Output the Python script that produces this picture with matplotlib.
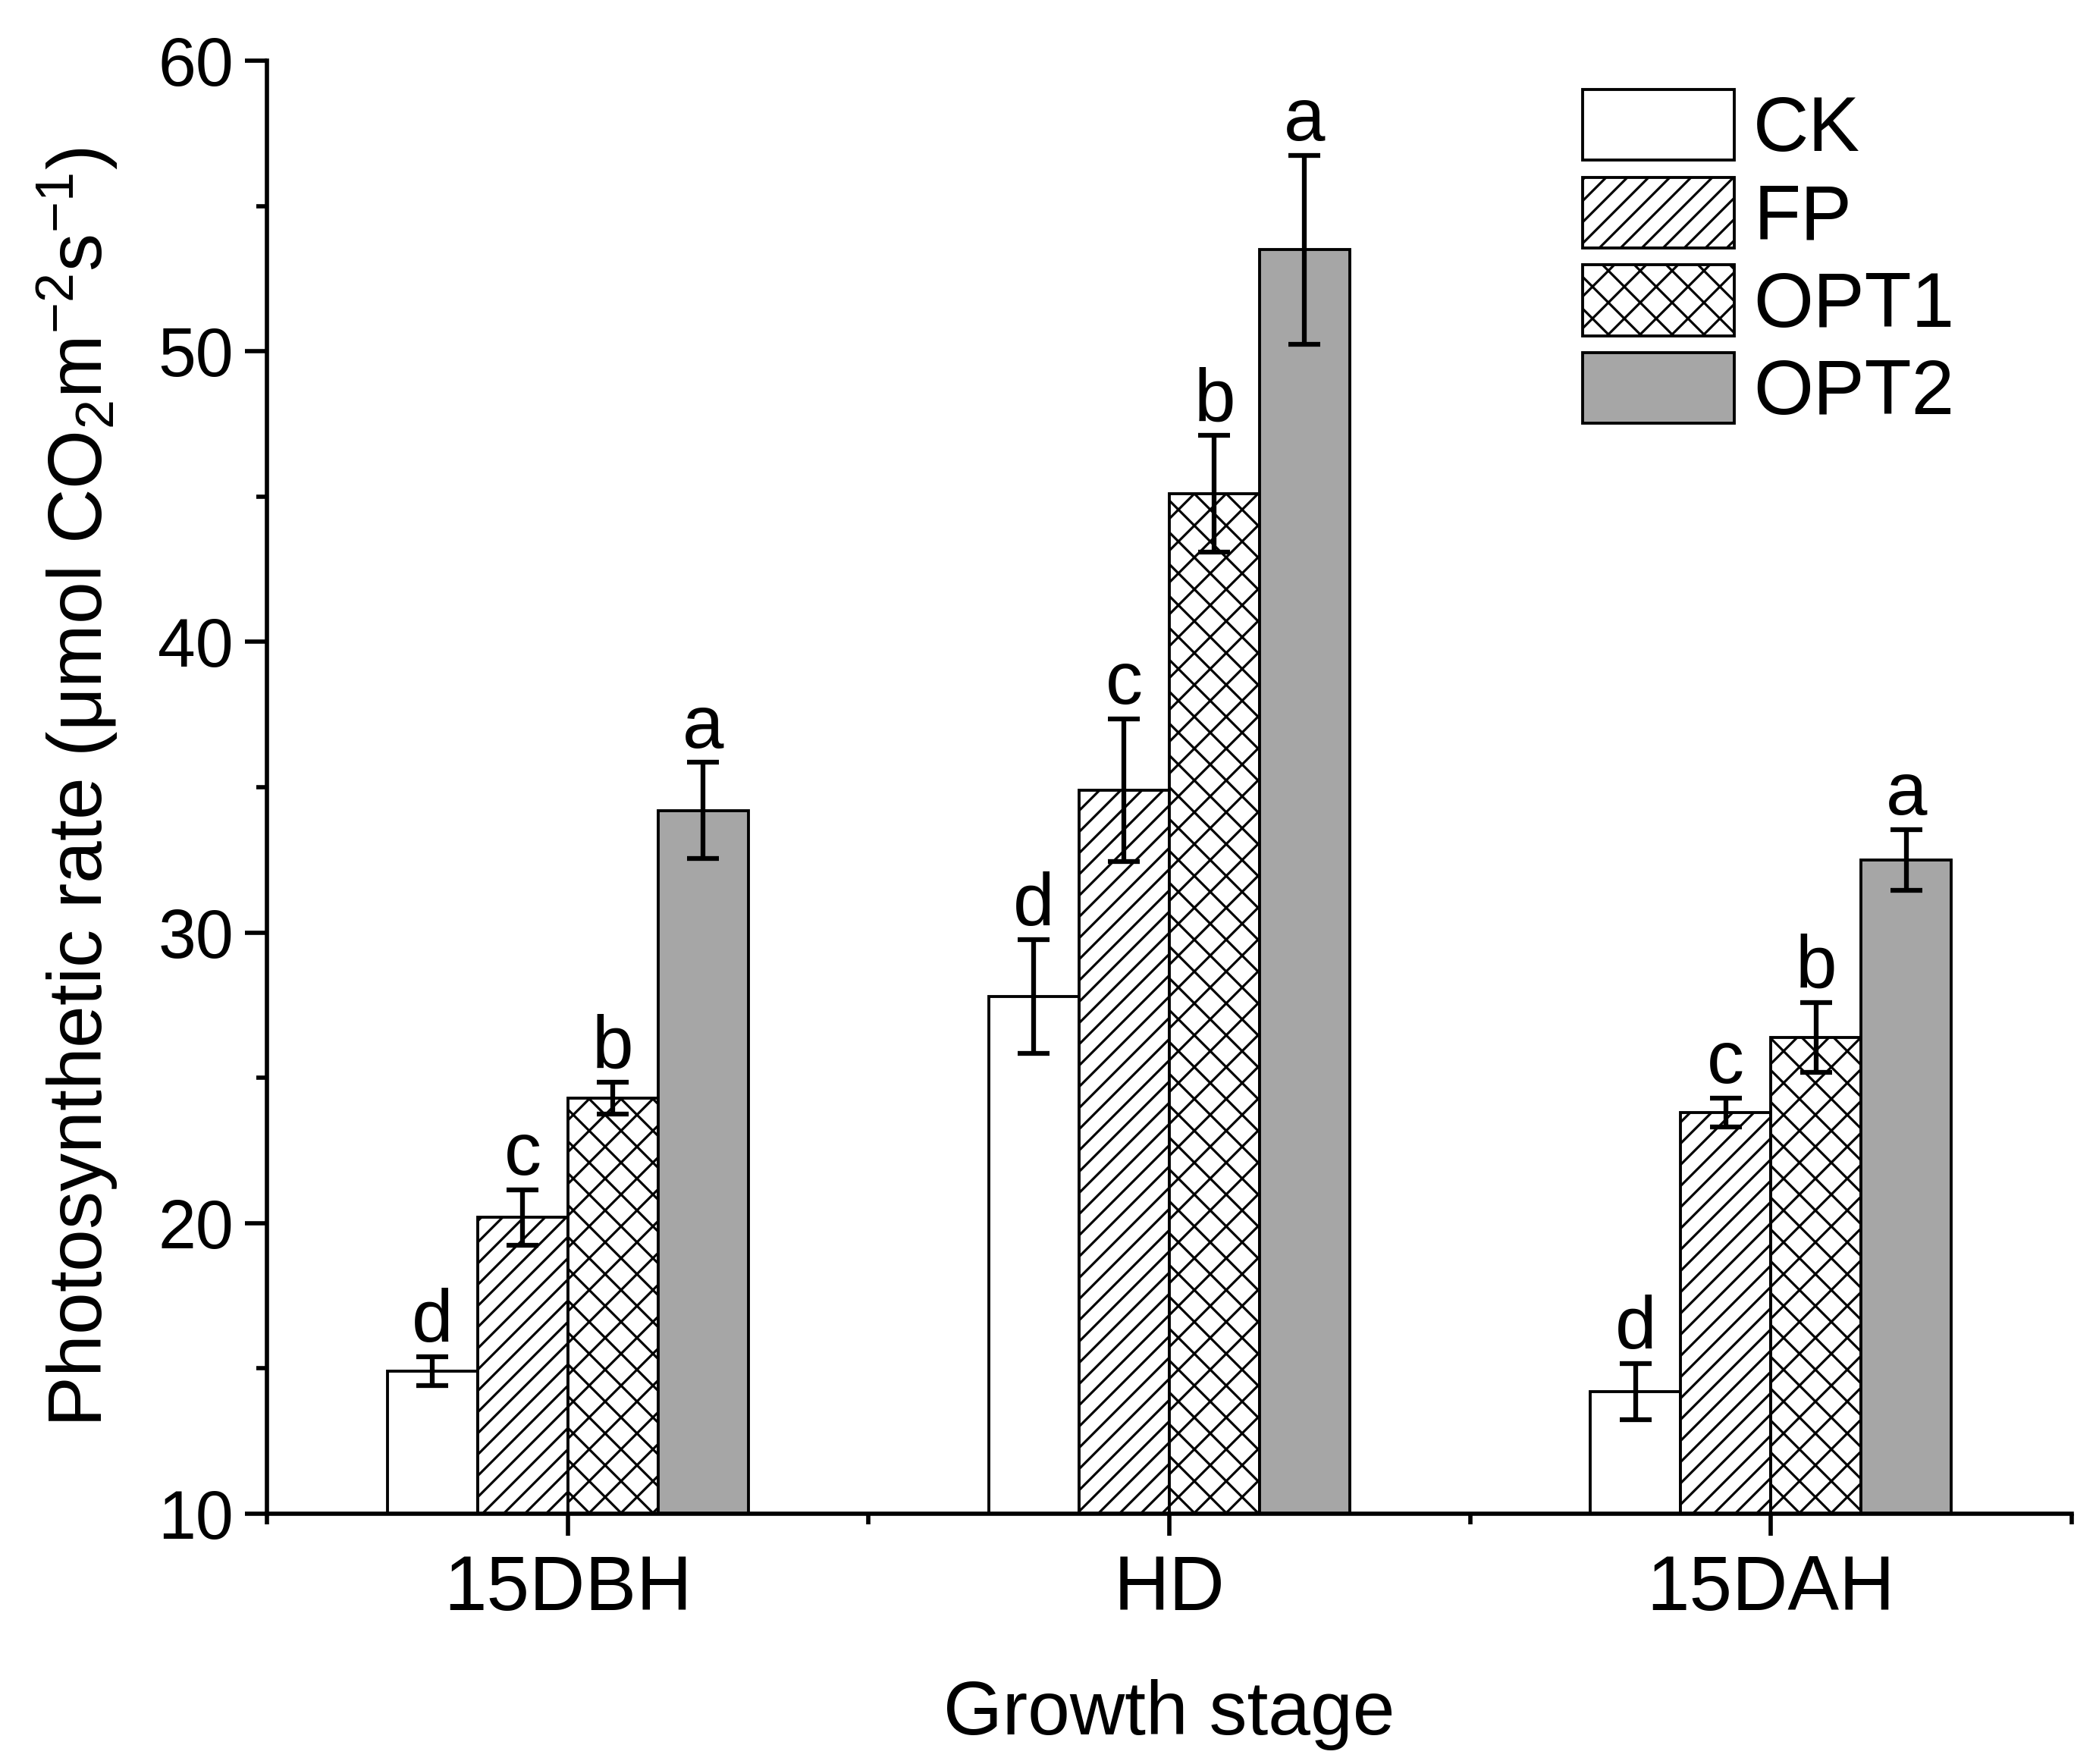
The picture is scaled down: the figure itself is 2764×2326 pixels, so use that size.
import numpy as np
import matplotlib
matplotlib.use('Agg')
import matplotlib.pyplot as plt
from matplotlib.ticker import MultipleLocator, FixedLocator

plt.rcParams['font.family'] = ['Liberation Sans', 'DejaVu Sans']
plt.rcParams['mathtext.fontset'] = 'custom'
plt.rcParams['mathtext.rm'] = 'Liberation Sans'
plt.rcParams['mathtext.it'] = 'Liberation Sans:italic'
plt.rcParams['hatch.linewidth'] = 0.45
plt.rcParams['hatch.color'] = 'black'

# data
stages = ['15DBH', 'HD', '15DAH']
treatments = ['CK', 'FP', 'OPT1', 'OPT2']
ck = [14.9, 27.8, 14.2]
fp = [20.2, 34.9, 23.8]
opt1 = [24.3, 45.1, 26.4]
opt2 = [34.2, 53.5, 32.5]
ck_err = [0.5, 1.95, 0.97]
fp_err = [0.95, 2.45, 0.5]
opt1_err = [0.55, 2.0, 1.2]
opt2_err = [1.65, 3.25, 1.05]
ck_lab = ['d', 'd', 'd']
fp_lab = ['c', 'c', 'c']
opt1_lab = ['b', 'b', 'b']
opt2_lab = ['a', 'a', 'a']

means = [ck, fp, opt1, opt2]
errs = [ck_err, fp_err, opt1_err, opt2_err]
labs = [ck_lab, fp_lab, opt1_lab, opt2_lab]
faces = ['white', 'white', 'white', '#a6a6a6']
# hatch spacing at this dpi: 168/n px, so 6 -> 28 px, 4 -> 42 px
hatches = ['', '//////', 'xxxx', '']

dpi = 504
fig = plt.figure(figsize=(2764/dpi, 2326/dpi), dpi=dpi)
ax = fig.add_axes([352/2764, 1-1996/2326, (2732-352)/2764, (1996-80)/2326])

x = np.arange(len(stages))
w = 0.15
for i in range(4):
    xp = x + (i-1.5)*w
    ax.bar(xp, np.array(means[i])-10, w, bottom=10, color=faces[i], edgecolor='black',
           linewidth=0.55, hatch=hatches[i], label=treatments[i], zorder=2)
    ax.errorbar(xp, means[i], yerr=errs[i], fmt='none', ecolor='black',
                elinewidth=0.9, capsize=3.0, capthick=0.9, zorder=3)
    for j in range(3):
        ax.annotate(labs[i][j], (xp[j], means[i][j]+errs[i][j]), xytext=(0, 2.8),
                    textcoords='offset points', ha='center', va='baseline', fontsize=14)

ax.set_xlim(-0.5, 2.5)
ax.set_ylim(10, 60)
ax.set_xticks(x)
ax.set_xticklabels(stages)
ax.xaxis.set_minor_locator(FixedLocator([-0.5, 0.5, 1.5, 2.5]))
ax.yaxis.set_major_locator(MultipleLocator(10))
ax.yaxis.set_minor_locator(MultipleLocator(5))
ax.spines['top'].set_visible(False)
ax.spines['right'].set_visible(False)
for s in ['left', 'bottom']:
    ax.spines[s].set_linewidth(0.8)
ax.tick_params(which='major', direction='out', length=4.1, width=0.8)
ax.tick_params(axis='y', which='major', labelsize=12.8, pad=2.2)
ax.tick_params(axis='x', which='major', labelsize=14.5, pad=3.5)
ax.tick_params(which='minor', direction='out', length=2.0, width=0.8)

ax.set_xlabel('Growth stage', fontsize=14.3, labelpad=10)
ax.set_ylabel('Photosynthetic rate (μmol CO$_2$m$^{-2}$s$^{-1}$)', fontsize=14.3, labelpad=7)

fig.legend(loc='upper left', bbox_to_anchor=(2087/2764, 1-118/2326), frameon=False,
           fontsize=14.5, handlelength=1.97, handleheight=1.04, labelspacing=0.13,
           handletextpad=0.25, borderpad=0, borderaxespad=0)

plt.savefig('out.png', dpi=dpi)
